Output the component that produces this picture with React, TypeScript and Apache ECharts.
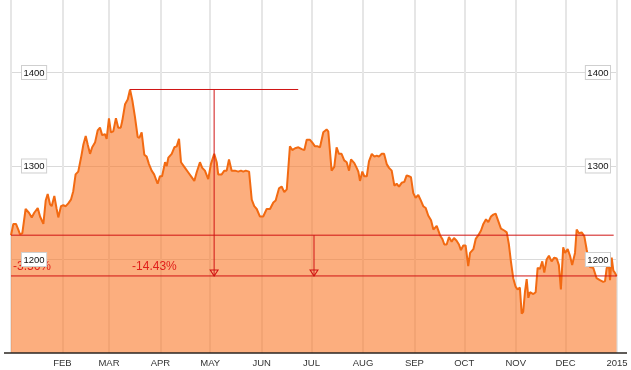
import React, { useEffect, useRef } from "react";
import * as echarts from "echarts";

// Gold price 2014: day offset from 1 Jan 2014 and price
const dayOffsets: number[] = [
  0.0, 1.4, 3.0, 4.4, 5.4, 6.8, 8.8, 10.8, 12.5, 14.0, 16.1, 17.5, 19.5, 20.9, 22.1, 23.5, 24.5, 26.1, 27.5, 28.5,
  30.1, 31.5, 33.0, 34.5, 36.1, 37.5, 38.9, 40.5, 42.2, 43.6, 45.0, 46.2, 47.6, 48.9, 50.6, 52.2, 53.6, 54.9, 56.6, 57.6,
  59.0, 60.2, 61.6, 63.2, 64.6, 66.1, 67.0, 68.7, 70.3, 71.7, 73.1, 74.7, 76.3, 77.3, 78.7, 80.3, 81.7, 83.1, 84.7, 86.2,
  88.3, 89.7, 91.0, 92.8, 93.8, 94.8, 96.8, 98.4, 99.8, 101.2, 102.4, 104.8, 106.8, 108.8, 110.4, 111.8, 113.8, 115.2, 116.8, 118.8,
  120.4, 122.4, 123.9, 124.8, 126.9, 128.5, 129.9, 131.3, 132.9, 134.9, 136.9, 138.5, 139.9, 141.4, 143.4, 145.0, 146.5, 148.0, 149.9, 151.9,
  154.0, 156.0, 158.0, 159.4, 161.4, 163.0, 164.6, 166.1, 168.0, 169.4, 171.1, 173.1, 175.1, 176.7, 178.1, 180.1, 181.5, 183.1, 184.7, 186.1,
  188.1, 190.1, 191.1, 193.1, 194.7, 196.1, 197.5, 199.1, 200.7, 202.2, 203.6, 204.8, 206.8, 208.2, 209.2, 210.2, 211.6, 212.8, 214.3, 215.6,
  217.3, 218.9, 220.3, 221.6, 223.3, 224.7, 226.3, 227.7, 229.3, 230.9, 232.3, 233.7, 235.3, 236.9, 238.3, 239.7, 240.9, 242.3, 243.7, 245.3,
  246.9, 248.3, 249.8, 251.3, 253.0, 254.4, 256.4, 258.4, 259.8, 261.0, 262.4, 263.8, 265.4, 266.8, 268.4, 269.8, 271.0, 272.4, 273.8, 275.4,
  276.5, 278.5, 279.9, 281.5, 283.1, 284.5, 286.1, 287.5, 289.1, 290.5, 291.9, 293.5, 295.1, 297.1, 298.6, 299.9, 301.1, 302.5, 303.9, 305.1,
  306.5, 307.6, 308.5, 309.6, 310.6, 311.6, 312.6, 314.6, 316.0, 317.2, 318.6, 320.0, 321.2, 322.6, 324.0, 325.6, 327.2, 328.7, 330.0, 331.2,
  332.6, 333.7, 335.3, 336.7, 338.0, 339.7, 340.7, 342.1, 343.7, 345.3, 346.7, 348.7, 350.7, 352.7, 354.7, 356.7, 357.8, 358.8, 360.2, 360.8,
  361.8, 362.8, 363.7, 364.7,
];

const prices: number[] = [
  1226.0, 1238, 1238, 1232, 1227, 1228, 1254, 1250, 1245, 1250, 1255, 1246, 1238, 1263, 1270, 1259, 1257, 1268, 1254, 1245,
  1257, 1258, 1257, 1260, 1264, 1273, 1291, 1294, 1309, 1323, 1332, 1323, 1313, 1320, 1325, 1338, 1341, 1333, 1334, 1329,
  1351, 1336, 1337, 1351, 1341, 1341, 1348, 1366, 1371, 1381.8, 1370, 1352, 1331, 1330, 1336, 1312, 1310, 1302, 1295, 1291,
  1281, 1289, 1289, 1304, 1300, 1309, 1313, 1320, 1321, 1329, 1304, 1298, 1293, 1288, 1284, 1293, 1304, 1298, 1295, 1286,
  1302, 1313, 1304, 1291, 1291, 1295, 1295, 1307, 1295, 1295, 1294, 1295, 1294, 1295, 1294, 1264, 1257, 1254, 1246, 1246,
  1254, 1254, 1261, 1263, 1276, 1278, 1272, 1275, 1321, 1317, 1319, 1320, 1318, 1317, 1328, 1328, 1325, 1321, 1321, 1320,
  1336, 1339, 1337, 1295, 1299, 1320, 1313, 1313, 1306, 1304, 1295, 1307, 1303, 1298, 1294, 1284, 1294, 1289, 1289, 1305,
  1313, 1310, 1311, 1310, 1313, 1313, 1302, 1298, 1295, 1279, 1281, 1278, 1282, 1283, 1290, 1289, 1288, 1271, 1266, 1269,
  1263, 1257, 1255, 1247, 1242, 1232, 1236, 1226, 1222, 1216, 1216, 1224, 1219, 1223, 1220, 1216, 1210, 1215, 1215, 1193,
  1207, 1211, 1222, 1226, 1231, 1238, 1243, 1240, 1246, 1248, 1249, 1241, 1233, 1231, 1229, 1216, 1198, 1180, 1171, 1168,
  1170, 1142, 1144, 1166, 1179, 1159, 1165, 1163, 1165, 1191, 1190, 1198, 1186, 1200, 1204, 1198, 1202, 1201, 1194, 1168,
  1213, 1207, 1211, 1204, 1194, 1207, 1232, 1228, 1229, 1225, 1211, 1192, 1191, 1180, 1178, 1176, 1177, 1191, 1192, 1178,
  1202, 1188, 1186, 1182.4,
];

const monthLabels: string[] = ["JAN", "FEB", "MAR", "APR", "MAY", "JUN", "JUL", "AUG", "SEP", "OCT", "NOV", "DEC"];
const yTicks = { min: 1100, max: 1477.5, interval: 100 };
const peakLineEndDay = 173;
const yearLineEndDay = 363;

const DAY = 86400000;
const t0 = new Date(2014, 0, 1).getTime();
const t1 = new Date(2015, 0, 1).getTime();

export default function App() {
  const ref = useRef<HTMLDivElement>(null);
  useEffect(() => {
    if (!ref.current) return;
    const chart = echarts.init(ref.current, null, { renderer: "svg" });
    const data = dayOffsets.map((d, i) => [t0 + d * DAY, prices[i]]);
    const startVal = prices[0];
    const endVal = prices[prices.length - 1];
    let peakIdx = 0;
    prices.forEach((p, i) => { if (p > prices[peakIdx]) peakIdx = i; });
    const peakVal = prices[peakIdx];
    const peakT = t0 + dayOffsets[peakIdx] * DAY;
    const peakEndT = t0 + peakLineEndDay * DAY;
    const yearEndT = t0 + yearLineEndDay * DAY;
    const mid1 = (peakT + peakEndT) / 2;
    const mid2 = (t0 + t1) / 2;
    const pctYear = (((endVal - startVal) / startVal) * 100).toFixed(2) + "%";
    const pctPeak = (((endVal - peakVal) / peakVal) * 100).toFixed(2) + "%";
    const red = "#d01414";
    const arrowEnd = (t: number, v: number) => ({
      value: [t, v],
      symbol: "path://M0,0L8,0L4,6Z",
      symbolSize: [8, 6],
      symbolKeepAspect: false,
      symbolOffset: [0, -3],
      itemStyle: { color: "rgba(0,0,0,0)", borderColor: red, borderWidth: 1 },
    });
    const annot = (name: string, pts: any[]) => ({
      type: "line",
      name,
      data: pts,
      yAxisIndex: 0,
      symbol: "none",
      showSymbol: true,
      silent: true,
      z: 3,
      lineStyle: { color: red, width: 1 },
      itemStyle: { color: red },
    });
    const labelBox = {
      show: true,
      inside: true,
      color: "#111",
      fontSize: 9.5,
      fontFamily: "Liberation Sans, Arial, sans-serif",
      backgroundColor: "#fff",
      borderColor: "#cfcfcf",
      borderWidth: 1,
      padding: [2, 1.5, 1, 1.5],
      lineHeight: 10,
      showMinLabel: false,
      showMaxLabel: false,
      formatter: (v: number) => String(v),
    };
    const yBase = {
      type: "value",
      min: yTicks.min,
      max: yTicks.max,
      interval: yTicks.interval,
      axisLine: { show: false },
      axisTick: { show: false },
    };
    chart.setOption({
      animation: false,
      grid: { left: 11, right: 14, top: 0, bottom: 17 },
      xAxis: {
        type: "time",
        min: t0,
        max: t1,
        splitNumber: 12,
        axisLine: { show: false },
        axisTick: { show: false },
        splitLine: { show: true, showMinLine: false, lineStyle: { color: "#e6e6e6", width: 2 } },
        axisLabel: {
          color: "#333",
          fontSize: 9.5,
          fontFamily: "Liberation Sans, Arial, sans-serif",
          margin: 4,
          showMinLabel: false,
          showMaxLabel: true,
          hideOverlap: false,
          alignMaxLabel: "center",
          formatter: (v: number) => {
            const d = new Date(v);
            if (d.getTime() <= t0) return "";
            return d.getMonth() === 0 ? String(d.getFullYear()) : monthLabels[d.getMonth()];
          },
        },
      },
      yAxis: [
        {
          ...yBase,
          position: "left",
          axisLabel: { show: false },
          splitLine: { show: true, showMinLine: false, showMaxLine: false, lineStyle: { color: "#dadada", width: 1 } },
        },
        {
          ...yBase,
          position: "left",
          z: 10,
          splitLine: { show: false },
          axisLabel: { ...labelBox, margin: 11 },
        },
        {
          ...yBase,
          position: "right",
          z: 10,
          splitLine: { show: false },
          axisLabel: { ...labelBox, margin: 7 },
        },
      ],
      graphic: [
        {
          type: "line",
          shape: { x1: 4, y1: 353, x2: 627, y2: 353 },
          style: { stroke: "#2a2420", lineWidth: 1.3 },
          z: 20,
        },
      ],
      series: [
        {
          type: "line",
          name: "Gold",
          data,
          yAxisIndex: 0,
          showSymbol: false,
          lineStyle: { color: "#f26a12", width: 2 },
          itemStyle: { color: "#f26a12" },
          areaStyle: { color: "rgba(250,120,40,0.6)", opacity: 1, origin: "start" },
          markPoint: {
            silent: true,
            symbol: "circle",
            symbolSize: 0,
            itemStyle: { color: "transparent" },
            label: {
              show: true,
              position: [2, -16],
              color: "#e0201b",
              fontSize: 12,
              fontFamily: "Liberation Sans, Arial, sans-serif",
            },
            data: [
              { coord: [t0, endVal], label: { formatter: pctYear } },
              { coord: [peakT, endVal], label: { formatter: pctPeak } },
            ],
          },
        },
        annot("startLine", [[t0, startVal], [yearEndT, startVal]]),
        annot("endLine", [[t0, endVal], [t1, endVal]]),
        annot("peakLine", [[peakT, peakVal], [peakEndT, peakVal]]),
        annot("peakDrop", [[mid1, peakVal], arrowEnd(mid1, endVal)]),
        annot("yearDrop", [[mid2, startVal], arrowEnd(mid2, endVal)]),
      ],
    });
    return () => chart.dispose();
  }, []);
  return <div ref={ref} style={{ position: "fixed", left: 0, top: 0, width: 631, height: 370 }} />;
}
